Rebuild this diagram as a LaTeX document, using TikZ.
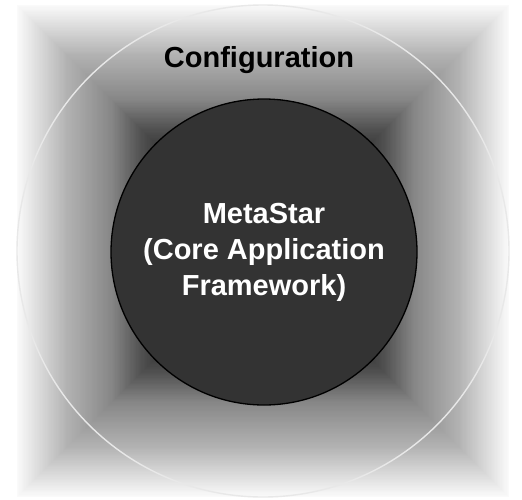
\documentclass[tikz,border=0pt]{standalone}
\usepackage{fontspec}
\setmainfont{Liberation Sans}
\definecolor{outerline}{HTML}{E8E8E8}
\definecolor{innerfill}{HTML}{333333}
\tikzset{
  ring/.style={circle, draw=outerline, line width=1.4pt, minimum size=492pt, inner sep=0pt},
  corecircle/.style={circle, draw=black, fill=innerfill, line width=1.3pt, minimum size=306pt, inner sep=0pt},
  biglabel/.style={font=\bfseries\fontsize{29}{36}\selectfont, inner sep=0pt}
}
\begin{document}
\begin{tikzpicture}[x=1pt,y=-1pt]
\useasboundingbox (0,0) rectangle (522,499);
\fill[white] (0,0) rectangle (522,499);
\foreach \i in {0,...,160}{
  \pgfmathsetmacro\f{1-\i/200}
  \pgfmathsetmacro\g{\f>0.8 ? 0.70+(\f-0.8)*1.4 : (\f>0.62 ? 0.53+(\f-0.62)*0.944 : (\f>0.5 ? 0.32+(\f-0.5)*1.75 : (\f>0.4 ? 0.2+(\f-0.4)*1.2 : max(0,(\f-0.2)*1.0))))}
  \definecolor{sq}{gray}{\g}
  \pgfmathsetmacro\s{246*\f}
  \fill[sq] (263-\s,251-\s) rectangle (263+\s,251+\s);
}
\node[ring] (config) at (263,251) {};
\node[biglabel, anchor=base, text=black] (configlabel) at (259,67) {Configuration};
\node[corecircle] (core) at (264,252) {};
\node[biglabel, align=center, text=white] (coretext) at (264,252) {MetaStar\\(Core Application\\Framework)};
\end{tikzpicture}
\end{document}
